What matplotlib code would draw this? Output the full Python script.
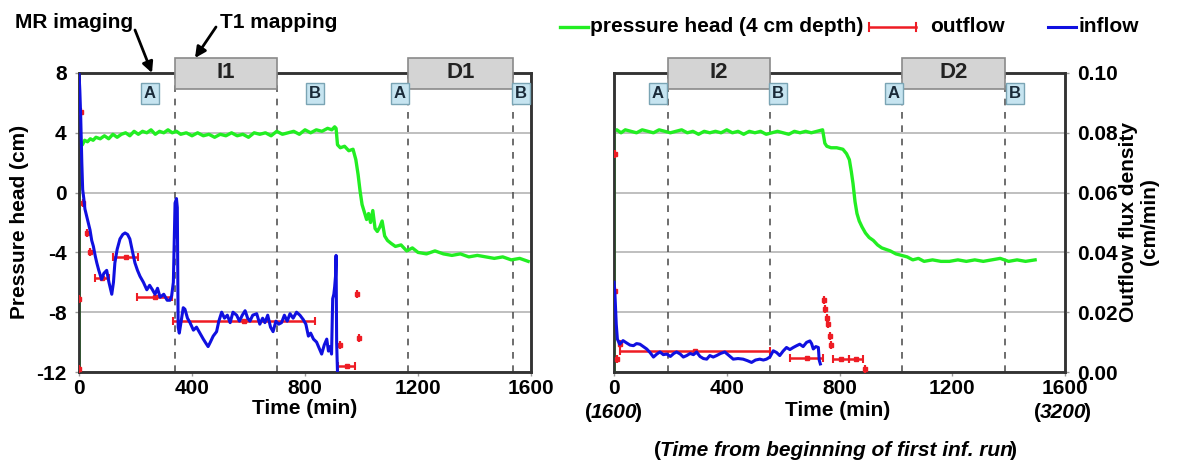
import numpy as np
import matplotlib.pyplot as plt
from matplotlib.lines import Line2D
from matplotlib.patches import Rectangle

plt.rcParams['font.family'] = ['Liberation Sans', 'DejaVu Sans']
plt.rcParams['font.weight'] = 'bold'
plt.rcParams['font.size'] = 15
plt.rcParams['axes.unicode_minus'] = False

# ---- run 1 (left panel) ----
# pressure head at 4 cm depth (cm)
t1_press = [
    0, 0, 5, 12, 20, 30, 40, 50, 60, 75,
    90, 105, 120, 135, 150, 165, 180, 195, 210, 225,
    240, 255, 270, 285, 300, 315, 330, 345, 360, 380,
    400, 420, 440, 460, 480, 500, 520, 540, 560, 580,
    600, 620, 640, 660, 680, 700, 720, 740, 760, 780,
    800, 820, 840, 860, 880, 895, 905, 910, 915, 925,
    940, 955, 970, 980, 988, 995, 1002, 1010, 1018, 1025,
    1032, 1040, 1048, 1056, 1065, 1073, 1082, 1092, 1105, 1120,
    1140, 1160, 1180, 1200, 1230, 1260, 1290, 1320, 1350, 1380,
    1410, 1440, 1470, 1500, 1530, 1560, 1590]
p1_cm = [
    -12, 2.9, 3.3, 3.2, 3.5, 3.4, 3.6, 3.5, 3.7, 3.6,
    3.8, 3.6, 3.9, 3.7, 3.9, 4.0, 3.8, 4.1, 3.9, 4.1,
    4.0, 4.2, 3.9, 4.1, 4.0, 4.2, 4.0, 4.1, 3.9, 4.0,
    3.8, 4.0, 3.8, 3.9, 3.7, 3.9, 3.8, 4.0, 3.8, 3.9,
    3.7, 4.0, 3.9, 4.0, 3.8, 4.1, 3.9, 4.0, 4.1, 3.9,
    4.2, 4.0, 4.2, 4.1, 4.3, 4.2, 4.4, 4.3, 3.2, 3.0,
    3.1, 2.8, 2.9, 2.2, 1.2, 0.1, -0.8, -1.3, -1.8, -1.4,
    -2.0, -1.2, -2.4, -2.6, -2.3, -1.9, -2.9, -3.2, -3.4, -3.6,
    -3.5, -3.9, -3.7, -4.0, -4.1, -3.9, -4.1, -4.2, -4.1, -4.3,
    -4.2, -4.3, -4.4, -4.3, -4.5, -4.4, -4.6]

# inflow flux density (cm/min)
t1_in = [
    0, 3, 6, 10, 13, 17, 21, 30, 39, 45,
    51, 57, 63, 70, 80, 88, 98, 106, 116, 122,
    127, 135, 145, 155, 163, 172, 180, 190, 198, 207,
    216, 228, 240, 250, 260, 269, 278, 287, 300, 312,
    322, 328, 334, 340, 345, 348, 351, 355, 360, 369,
    375, 384, 393, 405, 416, 428, 440, 450, 457, 465,
    475, 487, 495, 505, 515, 525, 535, 545, 558, 568,
    578, 588, 597, 605, 615, 629, 640, 650, 658, 668,
    678, 687, 697, 707, 717, 727, 737, 747, 758, 770,
    782, 794, 803, 812, 820, 830, 841, 850, 859, 868,
    877, 883, 889, 894, 898, 902, 905, 908, 910, 912,
    915]
f1_in = [
    0.100, 0.094, 0.0855, 0.070, 0.061, 0.058, 0.0545, 0.051, 0.0475, 0.044,
    0.042, 0.039, 0.0365, 0.034, 0.031, 0.033, 0.034, 0.030, 0.026, 0.030,
    0.0365, 0.041, 0.0445, 0.046, 0.0465, 0.046, 0.0445, 0.040, 0.0365, 0.034,
    0.032, 0.030, 0.0275, 0.029, 0.0275, 0.026, 0.028, 0.025, 0.026, 0.024,
    0.024, 0.0255, 0.030, 0.0565, 0.058, 0.055, 0.015, 0.013, 0.016, 0.0215,
    0.021, 0.018, 0.0165, 0.014, 0.015, 0.013, 0.011, 0.0095, 0.0085, 0.010,
    0.012, 0.0135, 0.017, 0.020, 0.018, 0.019, 0.0165, 0.020, 0.019, 0.017,
    0.019, 0.0205, 0.018, 0.017, 0.019, 0.0195, 0.016, 0.018, 0.0165, 0.019,
    0.015, 0.0135, 0.017, 0.016, 0.0165, 0.019, 0.017, 0.0195, 0.018, 0.020,
    0.019, 0.0175, 0.016, 0.012, 0.013, 0.011, 0.010, 0.008, 0.006, 0.009,
    0.011, 0.007, 0.0085, 0.006, 0.0245, 0.026, 0.0285, 0.032, 0.039, 0.010,
    0.000]

# outflow flux density (cm/min), with half-width of the collection interval
t1_out = [0, 0, 6, 15, 27, 39, 80, 165, 268, 584, 924, 947, 984, 991]
f1_out = [0.001, 0.0245, 0.087, 0.0565, 0.0465, 0.040, 0.0315, 0.0385, 0.025,
          0.017, 0.009, 0.002, 0.026, 0.0115]
dt1_out = [0, 0, 0, 0, 0, 0, 25, 44, 62, 251, 0, 30, 0, 0]

# ---- run 2 (right panel) ----
t2_press = [
    0, 0, 10, 25, 40, 60, 80, 100, 120, 140,
    160, 180, 200, 220, 240, 260, 280, 300, 320, 340,
    360, 380, 400, 420, 440, 460, 480, 500, 520, 540,
    560, 580, 600, 620, 640, 660, 680, 700, 720, 740,
    748, 755, 770, 790, 812, 825, 835, 842, 848, 855,
    862, 870, 880, 892, 905, 920, 935, 950, 965, 980,
    1000, 1020, 1040, 1060, 1080, 1100, 1130, 1160, 1190, 1220,
    1250, 1280, 1310, 1340, 1370, 1400, 1430, 1460, 1494]
p2_cm = [
    -12, 4.1, 4.2, 4.0, 4.2, 4.1, 4.0, 4.2, 4.1, 4.0,
    4.2, 4.1, 4.0, 4.1, 4.2, 4.0, 4.1, 3.9, 4.1, 4.0,
    4.1, 4.0, 4.2, 4.0, 4.1, 3.9, 4.1, 4.0, 4.1, 3.9,
    4.0, 4.1, 4.0, 3.9, 4.1, 4.0, 4.1, 4.0, 4.1, 4.2,
    3.3, 3.1, 3.0, 3.0, 2.9, 2.6, 2.2, 1.4, 0.6, -0.6,
    -1.4, -1.9, -2.3, -2.7, -3.0, -3.2, -3.5, -3.7, -3.8, -3.9,
    -4.1, -4.2, -4.3, -4.5, -4.4, -4.6, -4.5, -4.6, -4.6, -4.5,
    -4.6, -4.5, -4.6, -4.5, -4.4, -4.6, -4.5, -4.6, -4.5]

t2_in = [
    0, 3, 8, 12, 20, 32, 45, 57, 69, 80,
    92, 104, 116, 128, 140, 152, 163, 175, 187, 200,
    212, 222, 235, 246, 258, 270, 282, 293, 305, 317,
    329, 340, 352, 364, 378, 393, 408, 423, 440, 458,
    473, 488, 502, 517, 530, 541, 553, 565, 577, 588,
    600, 612, 624, 636, 648, 659, 671, 683, 695, 701,
    707, 716, 725, 728, 732]
f2_in = [
    0.030, 0.0267, 0.016, 0.011, 0.0093, 0.0105, 0.0097, 0.0090, 0.0088, 0.0095,
    0.0093, 0.0085, 0.0077, 0.0065, 0.0050, 0.0060, 0.0067, 0.0058, 0.0060, 0.0052,
    0.0062, 0.0067, 0.0060, 0.0050, 0.0055, 0.0062, 0.0058, 0.0067, 0.0052, 0.0045,
    0.0043, 0.0055, 0.0050, 0.0055, 0.0062, 0.0067, 0.0055, 0.0043, 0.0045, 0.0043,
    0.0038, 0.0032, 0.0040, 0.0043, 0.0040, 0.0043, 0.0050, 0.0071, 0.0065, 0.0055,
    0.0070, 0.0082, 0.0075, 0.0082, 0.0088, 0.0093, 0.0085, 0.0099, 0.0104, 0.0095,
    0.0077, 0.0085, 0.0082, 0.0040, 0.0027]

t2_out = [5, 5, 10, 20, 287, 683, 745, 750, 755, 760, 765, 770, 805, 858, 890]
f2_out = [0.073, 0.027, 0.0043, 0.0095, 0.0071, 0.0047, 0.024, 0.021, 0.018,
          0.016, 0.012, 0.009, 0.0043, 0.0043, 0.001]
dt2_out = [0, 0, 0, 0, 266, 59, 0, 0, 0, 0, 0, 0, 27, 26, 0]

# imaging periods (min): T1 mapping boxes and MR imaging marks
boxes1 = [('I1', 340, 701), ('D1', 1165, 1536)]
boxes2 = [('I2', 192, 553), ('D2', 1022, 1387)]
marks1 = [('A', 251), ('B', 835), ('A', 1136), ('B', 1565)]
marks2 = [('A', 156), ('B', 582), ('A', 993), ('B', 1423)]

GREEN = '#22ee22'
BLUE = '#1010e0'
RED = '#ee1c24'
SPINE = '#333333'
W, H = 1177, 470

fig = plt.figure(figsize=(W / 100, H / 100), dpi=100)
axL = fig.add_axes([79 / W, 1 - 372 / H, 452 / W, 299 / H])
axR = fig.add_axes([614 / W, 1 - 372 / H, 451 / W, 299 / H])


def px(x, y):
    return x / W, 1 - y / H


def draw_panel(ax, t_p, p, t_in, f_in, t_out, f_out, dt_out, boxes, marks):
    axf = ax.twinx()
    ax.set_xlim(0, 1600)
    ax.set_ylim(-12, 8)
    axf.set_ylim(0, 0.10)
    ax.set_xticks([0, 400, 800, 1200, 1600])
    ax.set_yticks([-12, -8, -4, 0, 4, 8])
    axf.set_yticks([0, 0.02, 0.04, 0.06, 0.08, 0.10])
    ax.grid(axis='y', color='#b4b4b4', lw=1.2)
    ax.set_axisbelow(True)

    for name, a, b in boxes:
        for xv in (a, b):
            ax.axvline(xv, color='#555555', lw=1.2, ls=(0, (4, 4)), zorder=1)

    ax.plot(t_p, p, color=GREEN, lw=2.4, zorder=3)
    eb = axf.errorbar(t_out, f_out, xerr=dt_out, fmt='s', ms=3.5, color=RED,
                      ecolor=RED, elinewidth=1.8, capsize=3, capthick=1.5,
                      zorder=3)
    axf.plot(t_in, f_in, color=BLUE, lw=2.2, zorder=4)

    for name, a, b in boxes:
        axf.add_patch(Rectangle((a, 0.0948), b - a, 0.0102, facecolor='#d4d4d4',
                                edgecolor='#8a8a8a', lw=1.2, clip_on=False,
                                zorder=6))
        axf.text((a + b) / 2, 0.1, name, ha='center', va='center', fontsize=16,
                 fontweight='bold', color='#222222', zorder=7)
    for lab, xv in marks:
        axf.text(xv, 0.0930, lab, ha='center', va='center', fontsize=12,
                 fontweight='bold', color='#1a2a38', zorder=7,
                 bbox=dict(boxstyle='square,pad=0.18', facecolor='#c6e4f0',
                           edgecolor='#7aa4b4', lw=1.0))

    for a in (ax, axf):
        for s in a.spines.values():
            s.set_color(SPINE)
            s.set_linewidth(1.8)
        a.tick_params(color='#999999', length=3, width=1)
    ax.tick_params(axis='x', pad=2)
    return axf, eb


axLf, eb1 = draw_panel(axL, t1_press, p1_cm, t1_in, f1_in, t1_out, f1_out,
                       dt1_out, boxes1, marks1)
axRf, eb2 = draw_panel(axR, t2_press, p2_cm, t2_in, f2_in, t2_out, f2_out,
                       dt2_out, boxes2, marks2)

axL.set_yticklabels(['-12', '-8', '-4', '0', '4', '8'])
axL.tick_params(axis='y', pad=6)
axLf.set_yticklabels([])
axLf.tick_params(axis='y', length=0)
axR.set_yticklabels([])
axR.tick_params(axis='y', length=0)
axRf.set_yticklabels(['0.00', '0.02', '0.04', '0.06', '0.08', '0.10'])
axRf.tick_params(axis='y', pad=6)

# axis titles
fig.text(*px(20, 222), 'Pressure head (cm)', rotation=90, ha='center',
         va='center')
fig.text(*px(1139, 222), 'Outflow flux density\n(cm/min)', rotation=90,
         ha='center', va='center', multialignment='center', linespacing=1.1)
fig.text(*px(305, 409), 'Time (min)', ha='center', va='center')
fig.text(*px(838, 410), 'Time (min)', ha='center', va='center')

renderer = fig.canvas.get_renderer()


def paren_italic(x, y, s):
    # normal parentheses around an italic text, centred on (x, y) pixels
    t = fig.text(*px(x, y), s, ha='center', va='center', fontstyle='italic')
    bb = t.get_window_extent(renderer)
    fig.text((bb.x0 + 1) / W, 1 - y / H, '(', ha='right', va='center')
    fig.text((bb.x1 - 2) / W, 1 - y / H, ')', ha='left', va='center')


paren_italic(614, 412, '1600')
paren_italic(1063, 412, '3200')
paren_italic(836, 450, 'Time from beginning of first inf. run')

# annotations
fig.text(*px(15, 23), 'MR imaging', ha='left', va='center')
fig.text(*px(220, 22), 'T1 mapping', ha='left', va='center')
arrow = dict(arrowstyle='-|>', color='black', lw=2, mutation_scale=16,
             shrinkA=0, shrinkB=0)
axL.annotate('', xy=px(152, 73), xycoords='figure fraction',
             xytext=px(135, 30), textcoords='figure fraction',
             arrowprops=arrow, annotation_clip=False)
axL.annotate('', xy=px(195, 58), xycoords='figure fraction',
             xytext=px(216, 27), textcoords='figure fraction',
             arrowprops=arrow, annotation_clip=False)

# legend, laid out by hand
ly = 27
fig.add_artist(Line2D([560 / W, 588 / W], [1 - ly / H] * 2, color=GREEN,
                      lw=2.4))
fig.text(*px(590, ly), 'pressure head (4 cm depth)', ha='left', va='center')
fig.add_artist(Line2D([869 / W, 916 / W], [1 - ly / H] * 2, color=RED, lw=1.8))
for cx in (869, 916):
    fig.add_artist(Line2D([cx / W] * 2, [1 - (ly - 4) / H, 1 - (ly + 4) / H],
                          color=RED, lw=1.5))
fig.text(*px(930, ly), 'outflow', ha='left', va='center')
fig.add_artist(Line2D([1048 / W, 1076 / W], [1 - ly / H] * 2, color=BLUE,
                      lw=2.2))
fig.text(*px(1078, ly), 'inflow', ha='left', va='center')

fig.savefig('out.png', dpi=100)
